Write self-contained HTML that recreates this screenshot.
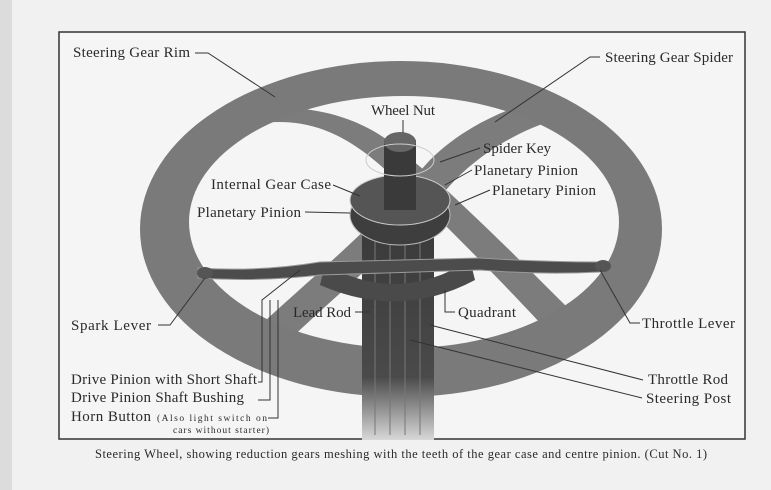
<!DOCTYPE html>
<html><head><meta charset="utf-8"><style>
html,body{margin:0;padding:0;background:#f1f1f1;}
svg{display:block;}
text{font-family:"Liberation Serif",serif;fill:#2a2a2a;}
</style></head><body>
<svg width="771" height="490" viewBox="0 0 771 490" xmlns="http://www.w3.org/2000/svg">
<defs>
<linearGradient id="post" x1="0" y1="0" x2="0" y2="1">
<stop offset="0" stop-color="#3a3a3a"/><stop offset="0.7" stop-color="#4a4a4a"/><stop offset="1" stop-color="#d8d8d8"/>
</linearGradient>
<mask id="ring"><rect width="771" height="490" fill="#000"/>
<ellipse cx="401" cy="229" rx="261" ry="168" fill="#fff"/>
<ellipse cx="404" cy="222" rx="215" ry="126" fill="#000"/>
</mask>
</defs>
<rect x="0" y="0" width="12" height="490" fill="#dcdcdc"/>
<rect x="59" y="32" width="686" height="407" fill="#f5f5f5" stroke="#333" stroke-width="1.5"/>
<path d="M250,125 C300,115 340,130 380,165 L420,200 C470,250 520,300 560,345 L590,330 C540,280 480,220 430,175 L400,150 C360,115 310,105 260,108 Z" fill="#7c7c7c"/>
<path d="M545,98 C500,110 460,130 430,160 L380,215 C330,265 280,305 240,345 L270,358 C310,320 360,275 405,235 L455,180 C485,150 520,130 560,118 Z" fill="#7c7c7c"/>
<rect x="0" y="0" width="771" height="490" fill="#7a7a7a" mask="url(#ring)"/>
<rect x="362" y="230" width="72" height="210" fill="url(#post)"/>
<g stroke="#777" stroke-width="1"><line x1="375" y1="240" x2="375" y2="435"/><line x1="390" y1="240" x2="390" y2="435"/><line x1="405" y1="240" x2="405" y2="435"/><line x1="420" y1="240" x2="420" y2="435"/></g>
<path d="M325,265 Q400,305 470,260 L475,280 Q400,320 320,285 Z" fill="#4a4a4a"/>
<ellipse cx="400" cy="215" rx="50" ry="30" fill="#3e3e3e" stroke="#bbb"/>
<ellipse cx="400" cy="200" rx="50" ry="25" fill="#555" stroke="#ccc"/>
<rect x="384" y="140" width="32" height="70" fill="#3a3a3a"/>
<ellipse cx="400" cy="142" rx="16" ry="10" fill="#666"/>
<ellipse cx="400" cy="160" rx="34" ry="16" fill="none" stroke="#ccc"/>
<path d="M198,268 Q260,272 320,262 L480,258 Q540,262 600,262 L600,272 Q540,275 480,270 L320,275 Q260,282 198,278 Z" fill="#4c4c4c" stroke="#999"/>
<ellipse cx="205" cy="273" rx="8" ry="6" fill="#555"/>
<ellipse cx="603" cy="266" rx="8" ry="6" fill="#555"/>
<g stroke="#333" stroke-width="1" fill="none">
<path d="M195,53 L208,53 L275,97"/>
<path d="M600,57 L590,57 L495,122"/>
<path d="M403,120 L403,133"/>
<path d="M480,148 L440,162"/>
<path d="M472,170 L445,185"/>
<path d="M490,190 L455,205"/>
<path d="M333,185 L360,196"/>
<path d="M305,212 L350,213"/>
<path d="M158,325 L170,325 L205,278"/>
<path d="M355,312 L370,312"/>
<path d="M445,290 L445,312 L455,312"/>
<path d="M640,323 L630,323 L600,270"/>
<path d="M258,382 L262,382 L262,300 L300,270"/>
<path d="M258,400 L270,400 L270,300"/>
<path d="M268,418 L278,418 L278,300"/>
<path d="M643,380 L430,325"/>
<path d="M642,398 L410,340"/>
</g>
<g font-size="15">
<text x="73" y="57" textLength="117">Steering Gear Rim</text>
<text x="605" y="62" textLength="128">Steering Gear Spider</text>
<text x="371" y="115" textLength="64">Wheel Nut</text>
<text x="483" y="153" textLength="68">Spider Key</text>
<text x="474" y="175" textLength="104">Planetary Pinion</text>
<text x="492" y="195" textLength="104">Planetary Pinion</text>
<text x="211" y="189" textLength="120">Internal Gear Case</text>
<text x="197" y="217" textLength="104">Planetary Pinion</text>
<text x="71" y="330" textLength="80">Spark Lever</text>
<text x="293" y="317" textLength="58">Lead Rod</text>
<text x="458" y="317" textLength="58">Quadrant</text>
<text x="642" y="328" textLength="93">Throttle Lever</text>
<text x="71" y="384" textLength="186">Drive Pinion with Short Shaft</text>
<text x="71" y="402" textLength="173">Drive Pinion Shaft Bushing</text>
<text x="71" y="421" textLength="80">Horn Button</text>
<text x="648" y="384" textLength="80">Throttle Rod</text>
<text x="646" y="403" textLength="85">Steering Post</text>
</g>
<text x="157" y="421" font-size="9.5" textLength="110">(Also light switch on</text>
<text x="173" y="433" font-size="9.5" textLength="96">cars without starter)</text>
<text x="95" y="458" font-size="12.5" textLength="612">Steering Wheel, showing reduction gears meshing with the teeth of the gear case and centre pinion.   (Cut No. 1)</text>
</svg>
</body></html>
